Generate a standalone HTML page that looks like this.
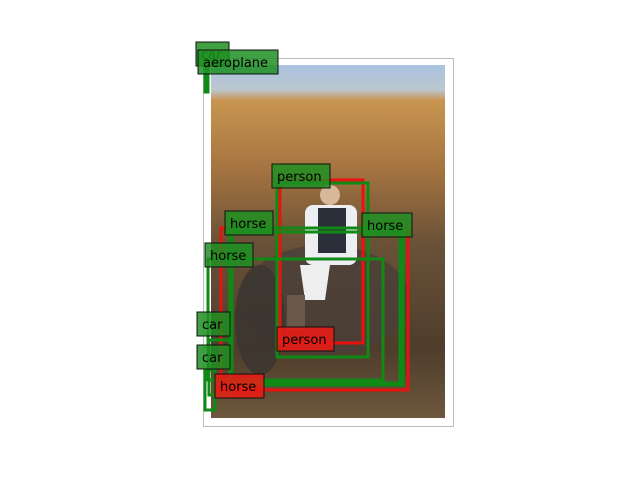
<!DOCTYPE html>
<html><head><meta charset="utf-8"><style>
html,body{margin:0;padding:0;background:#fff;}
svg{display:block;font-family:"DejaVu Sans","Liberation Sans",sans-serif;}
</style></head><body>
<svg id="c" width="640" height="480">
<defs>
<linearGradient id="photo" x1="0" y1="0" x2="0" y2="1">
<stop offset="0" stop-color="#a9c3e0"/>
<stop offset="0.07" stop-color="#bcc6cf"/>
<stop offset="0.1" stop-color="#c89550"/>
<stop offset="0.3" stop-color="#a47340"/>
<stop offset="0.5" stop-color="#6a5238"/>
<stop offset="0.8" stop-color="#4e3d2c"/>
<stop offset="1" stop-color="#6d573c"/>
</linearGradient>
</defs>
<rect x="203.5" y="58.5" width="250" height="368" fill="#fff" stroke="#bbb"/>
<g>
<rect x="211" y="65" width="234" height="353" fill="url(#photo)"/>
<ellipse cx="325" cy="300" rx="85" ry="55" fill="#4a3f38" opacity="0.8"/>
<ellipse cx="260" cy="320" rx="25" ry="55" fill="#3a3430" opacity="0.8"/>
<rect x="305" y="205" width="52" height="60" fill="#eceef2" rx="8"/>
<rect x="318" y="208" width="28" height="45" fill="#2b2f3a"/>
<circle cx="330" cy="195" r="10" fill="#d8b89a"/>
<path d="M300 265 L330 265 L325 300 L305 300 Z" fill="#eee"/>
<rect x="287" y="295" width="18" height="35" fill="#6b5848"/>
</g>
<g id="boxes"></g>
</svg>
<script>
// detections: [label, color, x1, y1, x2, y2, labelX, labelY]
const labels = ["person","person","horse","horse","horse","horse","car","car","car","aeroplane"];
const colors = ["red","green","red","green","green","green","green","green","green","green"];
const x1s = [280,277,221,232,208,230,209,205,205,205];
const y1s = [180,183,228,232,259,228,340,370,60,62];
const x2s = [363,368,408,400,383,403,230,215,208,208];
const y2s = [343,357,390,383,380,385,395,410,92,92];
const lx = [277,272,215,225,205,362,197,197,196,198];
const ly = [327,164,374,211,243,213,312,345,42,50];
const lw = [57,58,49,48,48,50,33,33,33,80];
const g = document.getElementById('boxes');
const NS = 'http://www.w3.org/2000/svg';
const col = c => c === 'red' ? '#e8120e' : '#0f8a14';
for (let i = 0; i < labels.length; i++) {
  const r = document.createElementNS(NS, 'rect');
  r.setAttribute('x', x1s[i]); r.setAttribute('y', y1s[i]);
  r.setAttribute('width', x2s[i] - x1s[i]); r.setAttribute('height', y2s[i] - y1s[i]);
  r.setAttribute('fill', 'none'); r.setAttribute('stroke', col(colors[i])); r.setAttribute('stroke-width', 3);
  
  
  g.appendChild(r);
}
for (let i = 0; i < labels.length; i++) {
  const t = document.createElementNS(NS, 'g');
  
  
  const b = document.createElementNS(NS, 'rect');
  b.setAttribute('x', lx[i]); b.setAttribute('y', ly[i]);
  b.setAttribute('width', lw[i]); b.setAttribute('height', 24);
  b.setAttribute('fill', colors[i] === 'red' ? '#ee1a14' : '#1f8f22'); b.setAttribute('fill-opacity', 0.85);
  b.setAttribute('stroke', '#111'); b.setAttribute('stroke-width', 1);
  t.appendChild(b);
  const tx = document.createElementNS(NS, 'text');
  tx.setAttribute('x', lx[i] + 5); tx.setAttribute('y', ly[i] + 17);
  tx.setAttribute('font-size', 13); tx.setAttribute('fill', '#000');
  tx.textContent = labels[i];
  t.appendChild(tx);
  g.appendChild(t);
}
</script>
</body></html>
